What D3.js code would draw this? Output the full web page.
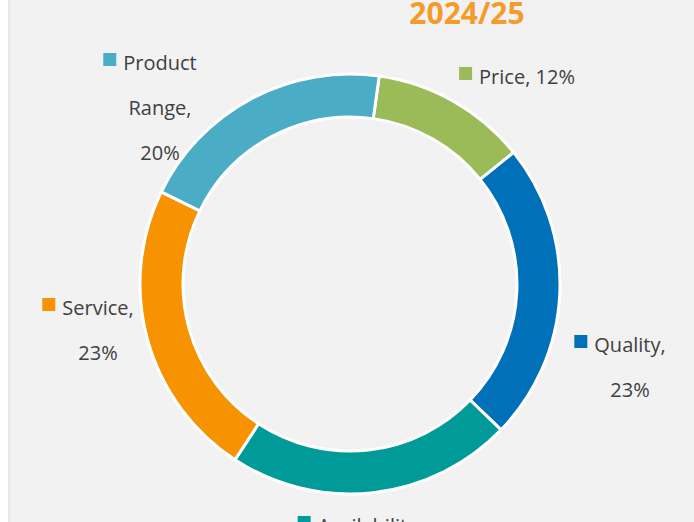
<!DOCTYPE html>
<html><head><meta charset="utf-8">
<script src="https://cdn.jsdelivr.net/npm/d3@7"></script>
<style>body{margin:0;background:#fff}text{font-family:"Open Sans","Noto Sans",sans-serif}</style>
</head><body><div id="chart"></div>
<script>
var categories = ["Price", "Quality", "Availability", "Service", "Product Range"];
var values = [12, 23, 22, 23, 20];
var colours = ["#9bbb59", "#0070b8", "#009a98", "#f79200", "#4bacc6"];
var labelLines = [["Price, 12%"], ["Quality,", "23%"], ["Availability,"], ["Service,", "23%"], ["Product", "Range,", "20%"]];

var width = 694, height = 522, cx = 350, cy = 284;

var svg = d3.select("#chart").append("svg").attr("width", width).attr("height", height);
svg.append("rect").attr("x", 9).attr("y", -2).attr("width", width).attr("height", height + 4)
   .attr("fill", "#f2f2f2").attr("stroke", "#d9d9d9");

svg.append("text").attr("x", 467).attr("y", 24).attr("text-anchor", "middle")
   .attr("font-size", 30).attr("font-weight", "bold").attr("fill", "#f39c2c").text("2024/25");

var pie = d3.pie().sort(null).startAngle(8 * Math.PI / 180).endAngle(8 * Math.PI / 180 + 2 * Math.PI);
var arc = d3.arc().innerRadius(167).outerRadius(210);

var g = svg.append("g").attr("transform", "translate(" + cx + "," + cy + ")");
g.selectAll("path").data(pie(values)).enter().append("path")
  .attr("d", arc).attr("fill", function(d, i) { return colours[i]; })
  .attr("stroke", "#fff").attr("stroke-width", 3);

// label anchors (centre of text block, first line y)
var labelPos = [[527, 84], [630, 352], [370, 533], [98, 315], [160, 70]];
var lineH = 45;
labelLines.forEach(function(lines, i) {
  var p = labelPos[i];
  var t = svg.append("text").attr("font-size", 20).attr("fill", "#404040").attr("text-anchor", "middle");
  lines.forEach(function(l, j) {
    t.append("tspan").attr("x", p[0]).attr("y", p[1] + j * lineH).text(l);
  });
  var w = t.select("tspan").node().getComputedTextLength();
  svg.append("rect").attr("x", p[0] - w / 2 - 20).attr("y", p[1] - 17).attr("width", 13).attr("height", 13)
     .attr("fill", colours[i]);
});
</script></body></html>
